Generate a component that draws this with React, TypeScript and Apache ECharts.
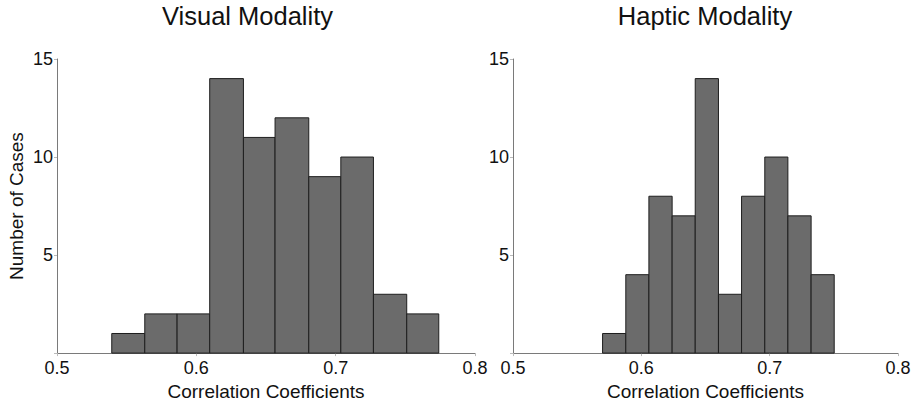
import React, { useEffect, useRef } from "react";
import * as echarts from "echarts";

// Bin edges (correlation coefficient) and counts
const visualEdges = [0.5393, 0.5630, 0.5862, 0.6096, 0.6338, 0.6565, 0.6807, 0.7037, 0.7271, 0.7510, 0.7740];
const visualCounts = [1, 2, 2, 14, 11, 12, 9, 10, 3, 2];

const hapticEdges = [0.5698, 0.5879, 0.6059, 0.6240, 0.6420, 0.6601, 0.6781, 0.6962, 0.7142, 0.7323, 0.7503];
const hapticCounts = [1, 4, 8, 7, 14, 3, 8, 10, 7, 4];

const titles = ["Visual Modality", "Haptic Modality"];
const xTicks = [0.5, 0.6, 0.7, 0.8];
const yTicks = [0, 5, 10, 15];
const xName = "Correlation Coefficients";
const yName = "Number of Cases";

const FONT = "'Liberation Sans', Arial, sans-serif";

function binsData(edges: number[], counts: number[]) {
  return counts.map((c, i) => [edges[i], edges[i + 1], c]);
}

export default function App() {
  const ref = useRef<HTMLDivElement>(null);
  useEffect(() => {
    if (!ref.current) return;
    const chart = echarts.init(ref.current, null, { renderer: "svg" });
    const grids = [
      { left: 57, right: 442, top: 59, bottom: 50 },
      { left: 513, right: 19, top: 59, bottom: 50 },
    ];
    const axisLine = { lineStyle: { color: "#7a7a7a", width: 1 } };
    const axisTick = { show: true, length: 3, lineStyle: { color: "#bbbbbb" } };
    const xAxes = grids.map((_, i) => ({
      type: "value",
      gridIndex: i,
      min: xTicks[0],
      max: xTicks[xTicks.length - 1],
      interval: 0.1,
      splitLine: { show: false },
      axisLine,
      axisTick,
      axisLabel: {
        color: "#111",
        fontFamily: FONT,
        fontSize: 18,
        margin: 6,
        formatter: (v: number) => v.toFixed(1),
      },
      name: xName,
      nameLocation: "middle",
      nameGap: 27,
      nameTextStyle: { color: "#111", fontFamily: FONT, fontSize: 19 },
    }));
    const yAxes = grids.map((_, i) => ({
      type: "value",
      gridIndex: i,
      min: yTicks[0],
      max: yTicks[yTicks.length - 1],
      interval: 5,
      splitLine: { show: false },
      axisLine: { show: true, ...axisLine },
      axisTick,
      axisLabel: {
        color: "#111",
        fontFamily: FONT,
        fontSize: 18,
        margin: 4,
        formatter: (v: number) => (v === 0 ? "" : String(v)),
      },
      name: i === 0 ? yName : "",
      nameLocation: "middle",
      nameGap: 31,
      nameTextStyle: { color: "#111", fontFamily: FONT, fontSize: 19 },
    }));
    const renderItem = (params: any, api: any) => {
      const p0 = api.coord([api.value(0), api.value(2)]);
      const p1 = api.coord([api.value(1), 0]);
      return {
        type: "rect",
        shape: { x: p0[0], y: p0[1], width: p1[0] - p0[0], height: p1[1] - p0[1] },
        style: { fill: "#6b6b6b", stroke: "#1e1e1e", lineWidth: 1 },
      };
    };
    chart.setOption({
      animation: false,
      backgroundColor: "#ffffff",
      title: titles.map((t, i) => ({
        text: t,
        left: i === 0 ? 247.5 : 705,
        textAlign: "center",
        top: 3,
        padding: 0,
        textStyle: { color: "#111", fontFamily: FONT, fontSize: 25.5, fontWeight: "normal" },
      })),
      grid: grids,
      xAxis: xAxes,
      yAxis: yAxes,
      series: [
        {
          type: "custom",
          xAxisIndex: 0,
          yAxisIndex: 0,
          renderItem,
          encode: { x: [0, 1], y: 2 },
          data: binsData(visualEdges, visualCounts),
        },
        {
          type: "custom",
          xAxisIndex: 1,
          yAxisIndex: 1,
          renderItem,
          encode: { x: [0, 1], y: 2 },
          data: binsData(hapticEdges, hapticCounts),
        },
      ],
    });
    return () => chart.dispose();
  }, []);
  return (
    <div
      ref={ref}
      style={{ width: 917, height: 406, position: "absolute", left: 0, top: 0, background: "#fff" }}
    />
  );
}
